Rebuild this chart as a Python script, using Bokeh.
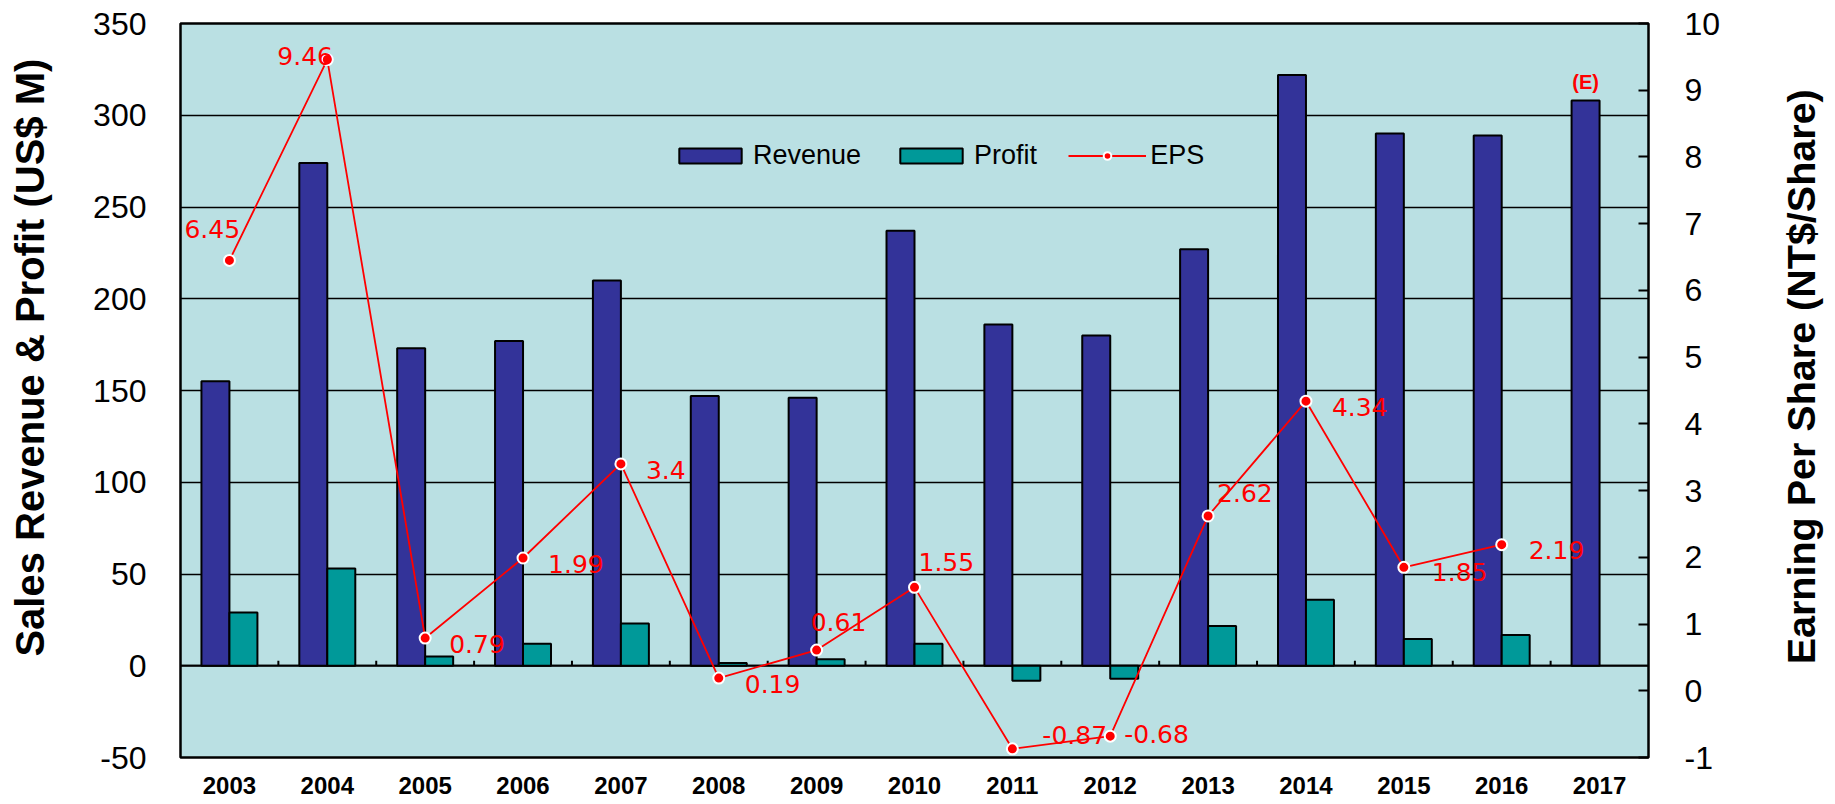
import math
from bokeh.plotting import figure
from bokeh.layouts import row
from bokeh.models import (Range1d, LinearAxis, FixedTicker, ColumnDataSource,
                          Legend, LegendItem, Span)
from bokeh.transform import dodge
from bokeh.core.properties import value
from bokeh.embed import file_html
from bokeh.resources import INLINE

# ---------------- data ----------------
years = ["2003", "2004", "2005", "2006", "2007", "2008", "2009", "2010",
         "2011", "2012", "2013", "2014", "2015", "2016", "2017"]
revenue = [155, 274, 173, 177, 210, 147, 146, 237, 186, 180, 227, 322, 290, 289, 308]
profit_years = years[:14]
profit = [29, 53, 5, 12, 23, 1.5, 3.5, 12, -8.2, -7.1, 21.6, 36, 14.6, 16.7]
eps_years = years[:14]
eps = [6.45, 9.46, 0.79, 1.99, 3.4, 0.19, 0.61, 1.55, -0.87, -0.68, 2.62, 4.34, 1.85, 2.19]
estimate_note = "(E)"
left_ticks = [-50, 0, 50, 100, 150, 200, 250, 300, 350]
right_ticks = [-1, 0, 1, 2, 3, 4, 5, 6, 7, 8, 9, 10]
left_title = "Sales Revenue & Profit (US$ M)"
right_title = "Earning Per Share (NT$/Share)"

# label placement (screen px) for EPS value labels
label_dx = [-45, -50, 24, 25, 25, 26, -6, 4, 30, 14, 9, 26, 28, 27]
label_dy = [-33, -6, 4, 4, 4, 4, -30, -27, -16, -4, -25, 4, 3, 3]

BG = "#BAE0E3"
REV_C = "#333399"
PROF_C = "#009999"
RED = "#FF0000"

W, H = 1835, 804
LW, RW = 60, 70                       # side strips holding the axis titles
PW = W - LW - RW                      # main figure width
ML, MT, MB = 180 - LW, 23, 47
MR = (LW + PW) - 1648

p = figure(x_range=years, y_range=Range1d(-50, 350),
           width=PW, height=H, output_backend="svg", toolbar_location=None,
           min_border_left=ML, min_border_right=MR, min_border_top=MT,
           min_border_bottom=MB)
p.extra_y_ranges = {"eps": Range1d(-1, 10)}

p.background_fill_color = BG
p.border_fill_color = "white"
p.outline_line_color = "black"
p.outline_line_width = 2.5

p.xgrid.grid_line_color = None
p.ygrid.ticker = FixedTicker(ticks=left_ticks)
p.ygrid.grid_line_color = "black"
p.ygrid.grid_line_width = 1.5

ya = p.yaxis[0]
ya.ticker = FixedTicker(ticks=left_ticks)
ya.major_label_overrides = {t: str(t) for t in left_ticks}
yr = LinearAxis(y_range_name="eps", ticker=FixedTicker(ticks=right_ticks))
yr.major_label_overrides = {t: str(t) for t in right_ticks}
p.add_layout(yr, "right")

for ax in (ya, yr):
    ax.axis_line_color = None
    ax.minor_tick_line_color = None
    ax.major_label_text_font = "Liberation Sans"
    ax.major_label_text_font_size = "32px"
    ax.major_label_text_color = "black"

ya.major_tick_out = 0
ya.major_tick_in = 0
ya.major_label_standoff = 34

yr.major_tick_out = 0
yr.major_tick_in = 10
yr.major_tick_line_color = "black"
yr.major_tick_line_width = 2
yr.major_label_standoff = 36

xa = p.xaxis[0]
xa.axis_line_color = None
xa.major_tick_line_color = None
xa.major_tick_out = 0
xa.major_tick_in = 0
xa.major_label_standoff = 19
xa.major_label_text_font = "Liberation Sans"
xa.major_label_text_font_size = "24px"
xa.major_label_text_font_style = "bold"
xa.major_label_text_color = "black"

# zero line
zero = Span(location=0, dimension="width", line_color="black", line_width=2,
            level="underlay")
p.add_layout(zero)

# category separator ticks at the zero line
sep_src = ColumnDataSource(dict(year=years[:-1], y0=[0] * 14, y1=[2.7] * 14))
p.segment(x0=dodge("year", 0.5, range=p.x_range), x1=dodge("year", 0.5, range=p.x_range),
          y0="y0", y1="y1", source=sep_src, line_color="black", line_width=2)

rev_src = ColumnDataSource(dict(year=years, revenue=revenue))
prof_src = ColumnDataSource(dict(year=profit_years, profit=profit))
eps_src = ColumnDataSource(dict(year=eps_years, eps=eps,
                                label=[str(v) for v in eps],
                                dx=label_dx, dy=[d + 2 for d in label_dy]))

rev_r = p.vbar(x=dodge("year", -0.143, range=p.x_range), top="revenue", width=0.286,
               source=rev_src, fill_color=REV_C, line_color="black", line_width=2)
prof_r = p.vbar(x=dodge("year", 0.143, range=p.x_range), top="profit", width=0.286,
                source=prof_src, fill_color=PROF_C, line_color="black", line_width=2)

eps_line = p.line(x="year", y="eps", source=eps_src, y_range_name="eps",
                  line_color=RED, line_width=1.8)
eps_pts = p.scatter(x="year", y="eps", source=eps_src, y_range_name="eps",
                    size=11, fill_color=RED, line_color="white", line_width=2)

p.text(x="year", y="eps", text="label", source=eps_src, y_range_name="eps",
       x_offset="dx", y_offset="dy", text_font=value("DejaVu Sans"),
       text_font_size="25px", text_color=RED, text_align="left",
       text_baseline="middle")

note_src = ColumnDataSource(dict(year=[years[-1]], revenue=[revenue[-1]], note=[estimate_note]))
p.text(x=dodge("year", -0.143, range=p.x_range), y="revenue", text="note", source=note_src,
       y_offset=-19, text_font=value("Liberation Sans"), text_font_size="20px",
       text_font_style="bold", text_color=RED, text_align="center",
       text_baseline="middle")

legend = Legend(items=[LegendItem(label="Revenue", renderers=[rev_r]),
                       LegendItem(label="Profit", renderers=[prof_r]),
                       LegendItem(label="EPS", renderers=[eps_line, eps_pts])],
                orientation="horizontal", location=(491, 586),
                glyph_width=78, glyph_height=19, label_standoff=4, spacing=31,
                padding=0, margin=0, border_line_color=None,
                background_fill_alpha=0, label_text_font="Liberation Sans",
                label_text_font_size="27px", label_text_color="black")
p.add_layout(legend)


def title_strip(width, text, cx, cy, size):
    """A narrow white strip carrying one vertical axis title (reads bottom-to-top)."""
    f = figure(width=width, height=H, x_range=Range1d(0, width), y_range=Range1d(0, H),
               x_axis_type=None, y_axis_type=None, output_backend="svg",
               toolbar_location=None, min_border=0)
    f.outline_line_color = None
    f.grid.grid_line_color = None
    f.background_fill_color = "white"
    f.border_fill_color = "white"
    f.text(x=[cx], y=[H - cy], text=[text], angle=math.pi / 2,
           text_align="center", text_baseline="middle",
           text_font=value("Liberation Sans"), text_font_size=size,
           text_font_style="bold", text_color="black")
    return f


left_strip = title_strip(LW, left_title, 29, 366, "40px")
right_strip = title_strip(RW, right_title, 1800 - (LW + PW), 387, "39.5px")

layout = row(left_strip, p, right_strip, spacing=0)
open("out.html", "w").write(file_html(layout, INLINE))
